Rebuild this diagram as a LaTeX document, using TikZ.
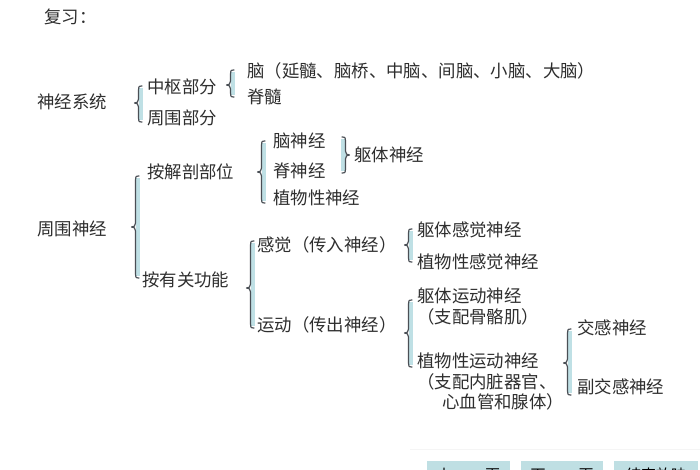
\documentclass[tikz,border=0pt]{standalone}
\usepackage{fontspec}
\setmainfont{Noto Sans CJK SC}
\newfontfamily\cjk{Noto Sans CJK SC}
\definecolor{txt}{HTML}{2E2E2E}
\definecolor{brc}{HTML}{4A4F55}
\definecolor{bfill}{HTML}{BFE0E5}
\definecolor{btn}{HTML}{BFDFE3}
\newcommand{\mybraceL}[4]{% x, ytop, ybot, ymid
  \fill[bfill] (#1+1.5,#2+2) rectangle (#1+6,#3-2);
  \draw[bracestyle] (#1+5,#2) .. controls (#1+1.5,#2) and (#1+1.5,#2+1) .. (#1+1.5,#2+4)
    -- (#1+1.5,#4-4) .. controls (#1+1.5,#4-1) and (#1,#4) .. (#1-2.5,#4)
    .. controls (#1,#4) and (#1+1.5,#4+1) .. (#1+1.5,#4+4)
    -- (#1+1.5,#3-4) .. controls (#1+1.5,#3-1) and (#1+1.5,#3) .. (#1+5,#3);}
\newcommand{\mybraceR}[4]{% x, ytop, ybot, ymid
  \fill[bfill] (#1-1.5,#2+2) rectangle (#1-6,#3-2);
  \draw[bracestyle] (#1-5,#2) .. controls (#1-1.5,#2) and (#1-1.5,#2+1) .. (#1-1.5,#2+4)
    -- (#1-1.5,#4-4) .. controls (#1-1.5,#4-1) and (#1,#4) .. (#1+2.5,#4)
    .. controls (#1,#4) and (#1-1.5,#4+1) .. (#1-1.5,#4+4)
    -- (#1-1.5,#3-4) .. controls (#1-1.5,#3-1) and (#1-1.5,#3) .. (#1-5,#3);}
\begin{document}
\begin{tikzpicture}[x=1pt,y=-1pt,
  lbl/.style={anchor=west,inner sep=0pt,text=txt,font=\cjk\fontsize{17.4}{19}\selectfont},
  bracestyle/.style={draw=brc,line width=1.2pt,line cap=round,line join=round},
  btnbox/.style={fill=btn,draw=none},
  btntxt/.style={inner sep=0pt,text=black,font=\cjk\fontsize{15}{16}\selectfont}]
\useasboundingbox (0,0) rectangle (700,470);
\fill[white] (0,0) rectangle (700,470);

\node[lbl] (fx) at (44,17) {复习：};

\node[lbl] (sjxt) at (37,102) {神经系统};
\mybraceL{137}{86}{122}{103}
\node[lbl] (zsbf) at (147,87) {中枢部分};
\node[lbl] (zwbf) at (147,118) {周围部分};
\mybraceL{229}{70}{97}{85}
\node[lbl] (nao) at (247,71) {脑（延髓、脑桥、中脑、间脑、小脑、大脑）};
\node[lbl] (jisui) at (247,97) {脊髓};

\node[lbl] (zwsj) at (37,229) {周围神经};
\mybraceL{134}{176}{278}{227}
\node[lbl] (ajp) at (147,172) {按解剖部位};
\node[lbl] (ayg) at (142,280) {按有关功能};

\mybraceL{260}{141}{203}{172}
\node[lbl] (nsj) at (273,141) {脑神经};
\node[lbl] (jsj) at (273,171) {脊神经};
\node[lbl] (zws) at (273,198) {植物性神经};
\mybraceR{347}{137}{173}{155}
\node[lbl] (qtsj) at (354,155) {躯体神经};

\mybraceL{249}{241}{328}{288}
\node[lbl] (gj) at (257,245) {感觉（传入神经）};
\node[lbl] (yd) at (257,325) {运动（传出神经）};

\mybraceL{407}{229}{262}{245}
\node[lbl] (qtgj) at (417,230) {躯体感觉神经};
\node[lbl] (zwgj) at (417,262) {植物性感觉神经};

\mybraceL{407}{300}{367}{333}
\node[lbl] (qtyd) at (417,296) {躯体运动神经};
\node[lbl] (zpgg) at (417,317) {（支配骨骼肌）};
\node[lbl] (zwyd) at (417,361) {植物性运动神经};
\node[lbl] (zpnz) at (417,382) {（支配内脏器官、};
\node[lbl] (xxg) at (442,402) {心血管和腺体）};

\mybraceL{566}{329}{395}{363}
\node[lbl] (jg) at (577,328) {交感神经};
\node[lbl] (fjg) at (577,387) {副交感神经};

\draw[black!4,line width=0.8pt] (410,449) -- (700,449);
\begin{scope}
\clip (0,0) rectangle (700,470);
\fill[btnbox] (427,461) rectangle (510,480);
\fill[btnbox] (521,461) rectangle (603,480);
\fill[btnbox] (614,461) rectangle (698,480);
\node[btntxt] (b1) at (468.5,475) {上\hspace{0.6em}一\hspace{0.6em}页};
\node[btntxt] (b2) at (562,475) {下\hspace{0.6em}一\hspace{0.6em}页};
\node[btntxt] (b3) at (656,475) {结束放映};
\end{scope}
\end{tikzpicture}
\end{document}
